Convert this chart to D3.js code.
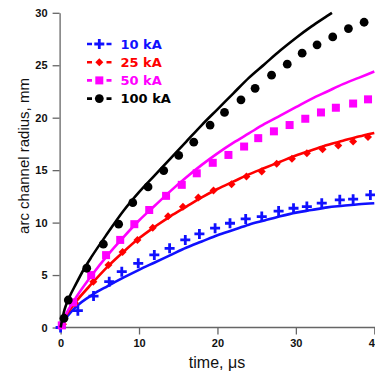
<!DOCTYPE html>
<html>
<head>
<meta charset="utf-8">
<script src="https://cdn.jsdelivr.net/npm/d3@7"></script>
<style>
  html, body { margin: 0; padding: 0; background: #fff; }
  svg { display: block; }
</style>
</head>
<body>
<svg id="chart" width="375" height="374"></svg>
<script>
// Arc channel radius vs time for four peak currents: measured points and model curves.
const xTicks = [0, 10, 20, 30, 40];
const yTicks = [0, 5, 10, 15, 20, 25, 30];
const legendLabels = ["10 kA", "25 kA", "50 kA", "100 kA"];
const seriesColors = ["#1010ff", "#ff0000", "#ff00ff", "#000000"];
const markerShapes = ["plus", "diamond", "square", "circle"];

// measured points, 10 kA
const t10 = [0.0, 2.2, 4.2, 6.2, 7.8, 9.9, 11.95, 13.9, 15.9, 17.7, 19.7, 21.6, 23.6, 25.65, 27.8, 29.7, 31.4, 33.3, 35.6, 37.3, 39.5];
const r10 = [0.0, 1.6, 3.0, 4.37, 5.32, 6.12, 6.92, 7.55, 8.35, 8.92, 9.47, 9.94, 10.35, 10.57, 11.1, 11.37, 11.53, 11.85, 12.17, 12.23, 12.64];
// measured points, 25 kA
const t25 = [0.3, 1.84, 4.17, 6.1, 7.9, 9.8, 11.75, 13.7, 15.6, 17.56, 19.5, 21.8, 23.7, 25.65, 27.55, 29.5, 31.4, 33.4, 35.4, 37.3, 39.2];
const r25 = [0.3, 2.3, 4.37, 5.96, 7.2, 8.35, 9.5, 10.6, 11.5, 12.4, 13.05, 13.66, 14.4, 14.87, 15.6, 16.08, 16.6, 17.0, 17.35, 17.73, 18.15];
// measured points, 50 kA
const t50 = [0.15, 1.6, 3.9, 5.8, 7.6, 9.4, 11.3, 13.45, 15.45, 17.36, 19.4, 21.4, 23.4, 25.2, 27.2, 29.2, 31.2, 33.2, 35.1, 37.3, 39.2];
const r50 = [0.2, 2.4, 5.0, 6.9, 8.35, 9.85, 11.2, 12.55, 13.6, 14.7, 15.7, 16.45, 17.25, 18.05, 18.7, 19.3, 19.9, 20.5, 20.95, 21.35, 21.75];
// measured points, 100 kA
const t100 = [0.43, 0.98, 3.33, 5.45, 7.4, 9.2, 11.15, 13.15, 15.06, 16.98, 19.06, 20.9, 23.0, 24.8, 26.9, 28.9, 30.8, 32.7, 34.7, 36.7, 38.7];
const r100 = [0.88, 2.62, 5.65, 7.94, 9.85, 11.9, 13.4, 14.96, 16.4, 17.67, 19.3, 20.5, 21.7, 22.8, 24.05, 25.1, 26.15, 26.95, 27.7, 28.5, 29.1];

// model curves
const tFit = [0, 0.5, 1, 2, 4, 6, 8, 10, 12, 14, 16, 18, 20, 22, 24, 26, 28, 30, 32, 34, 36, 38, 40];
const fit10 = [0, 0.7, 1.2, 2.0, 3.1, 3.95, 4.75, 5.5, 6.2, 6.9, 7.6, 8.2, 8.8, 9.3, 9.8, 10.2, 10.6, 10.95, 11.2, 11.45, 11.6, 11.75, 11.85];
const fit25 = [0, 0.9, 1.5, 2.5, 4.2, 5.8, 7.2, 8.5, 9.6, 10.6, 11.5, 12.4, 13.2, 13.9, 14.6, 15.2, 15.8, 16.4, 16.9, 17.4, 17.8, 18.2, 18.55];
const fit50 = [0, 1.0, 1.7, 2.9, 5.0, 6.9, 8.6, 10.2, 11.6, 13.0, 14.3, 15.5, 16.6, 17.6, 18.5, 19.4, 20.2, 21.0, 21.8, 22.5, 23.2, 23.8, 24.4];
const tFit100 = [0, 0.5, 1, 2, 3, 4, 6, 8, 10, 12, 14, 16, 18, 20, 22, 24, 26, 28, 30, 32, 34, 34.6];
const fit100 = [0, 1.7, 2.7, 4.2, 5.6, 6.8, 9.0, 11.1, 12.9, 14.5, 16.1, 17.7, 19.3, 20.8, 22.3, 23.8, 25.1, 26.4, 27.6, 28.7, 29.7, 30.0];

const pointSets = [[t10, r10], [t25, r25], [t50, r50], [t100, r100]];
const fitSets = [[tFit, fit10], [tFit, fit25], [tFit, fit50], [tFit100, fit100]];

const svg = d3.select("#chart");
const x = d3.scaleLinear().domain([0, 40]).range([60.6, 374.3]);
const y = d3.scaleLinear().domain([0, 30]).range([327.5, 12.8]);
const axisColor = "#666";
const tickFont = "'Liberation Sans', Arial, sans-serif";

// x axis
const gx = svg.append("g").attr("transform", `translate(0,${y(0)})`)
  .call(d3.axisBottom(x).tickValues(xTicks).tickSize(7).tickPadding(5).tickSizeOuter(0));
gx.select(".domain").attr("stroke", axisColor).attr("stroke-width", 1.3).attr("d", `M${x(0)},0H375`);
gx.selectAll(".tick line").attr("stroke", axisColor).attr("stroke-width", 1.3);
gx.selectAll(".tick text").attr("fill", "#111").attr("font-family", tickFont)
  .attr("font-weight", "bold").attr("font-size", 11);

// y axis
const gy = svg.append("g").attr("transform", `translate(${x(0) - 1},0)`)
  .call(d3.axisLeft(y).tickValues(yTicks).tickSize(7).tickPadding(5).tickSizeOuter(0));
gy.select(".domain").attr("stroke", axisColor).attr("stroke-width", 1.3);
gy.selectAll(".tick line").attr("stroke", axisColor).attr("stroke-width", 1.3);
gy.selectAll(".tick text").attr("fill", "#111").attr("font-family", tickFont)
  .attr("font-weight", "bold").attr("font-size", 11);

// axis titles
svg.append("text").attr("x", 217).attr("y", 368).attr("text-anchor", "middle")
  .attr("font-family", tickFont).attr("font-size", 16).attr("fill", "#111")
  .text("time, \u03bcs");
svg.append("text").attr("transform", "translate(29,156) rotate(-90)").attr("text-anchor", "middle")
  .attr("font-family", tickFont).attr("font-size", 15).attr("fill", "#111")
  .text("arc channel radius, mm");

const line = d3.line().x(d => x(d[0])).y(d => y(d[1])).curve(d3.curveMonotoneX);

function drawMarker(g, shape, color, cx, cy) {
  if (shape === "plus") {
    g.append("path").attr("d", `M${cx - 5},${cy}H${cx + 5}M${cx},${cy - 5}V${cy + 5}`)
      .attr("stroke", color).attr("stroke-width", 2.8).attr("fill", "none");
  } else if (shape === "diamond") {
    g.append("path").attr("d", `M${cx},${cy - 4}L${cx + 4},${cy}L${cx},${cy + 4}L${cx - 4},${cy}Z`)
      .attr("fill", color);
  } else if (shape === "square") {
    g.append("rect").attr("x", cx - 4).attr("y", cy - 4).attr("width", 8).attr("height", 8)
      .attr("fill", color);
  } else {
    g.append("circle").attr("cx", cx).attr("cy", cy).attr("r", 4.4).attr("fill", color);
  }
}

const plot = svg.append("g");
seriesColors.forEach((color, i) => {
  const [ts, rs] = fitSets[i];
  plot.append("path").datum(ts.map((t, k) => [t, rs[k]]))
    .attr("d", line).attr("fill", "none").attr("stroke", color).attr("stroke-width", 2.6);
  const [pt, pr] = pointSets[i];
  const mg = plot.append("g");
  pt.forEach((t, k) => drawMarker(mg, markerShapes[i], color, x(t), y(pr[k])));
});

// legend
const legend = svg.append("g");
legendLabels.forEach((label, i) => {
  const ly = 44 + i * 18.2;
  const color = seriesColors[i];
  legend.append("path").attr("d", `M87,${ly}H92M106.5,${ly}H111.5`)
    .attr("stroke", color).attr("stroke-width", 2.6);
  drawMarker(legend, markerShapes[i], color, 99.3, ly);
  legend.append("text").attr("x", 120.5).attr("y", ly + 4.8)
    .attr("font-family", "'DejaVu Sans', Verdana, sans-serif").attr("font-weight", "bold")
    .attr("font-size", 13).attr("fill", color).text(label);
});
</script>
</body>
</html>
